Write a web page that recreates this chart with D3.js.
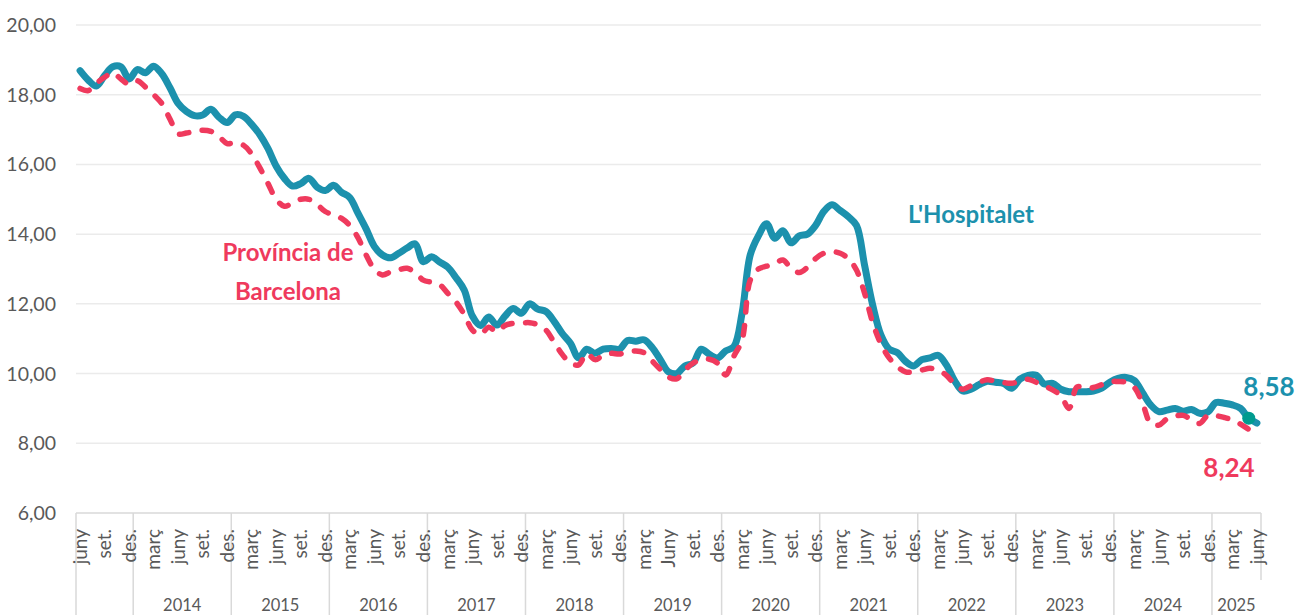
<!DOCTYPE html>
<html><head><meta charset="utf-8">
<script src="https://cdn.jsdelivr.net/npm/d3@7"></script>
<style>body{margin:0;background:#fff;} svg{display:block;}</style>
</head><body><svg id="c" width="1296" height="615"></svg>
<script>
// Monthly series, June 2013 .. June 2025 (145 months)
const hospitalet = [
18.69,18.42,18.25,18.55,18.80,18.80,18.45,18.72,18.63,18.82,18.60,18.20,
17.75,17.52,17.40,17.42,17.58,17.35,17.20,17.42,17.38,17.15,16.85,16.45,
15.95,15.60,15.38,15.45,15.60,15.35,15.25,15.40,15.20,15.05,14.60,14.15,
13.65,13.40,13.32,13.45,13.60,13.72,13.21,13.35,13.20,13.05,12.75,12.40,
11.65,11.38,11.62,11.39,11.65,11.87,11.73,12.00,11.85,11.78,11.50,11.15,
10.87,10.45,10.70,10.58,10.70,10.72,10.70,10.95,10.93,10.97,10.75,10.40,
10.05,10.00,10.22,10.30,10.70,10.55,10.45,10.65,10.77,11.73,13.40,13.95,
14.30,13.88,14.10,13.75,13.95,14.00,14.25,14.65,14.84,14.68,14.50,14.25,
13.10,11.95,11.10,10.70,10.60,10.35,10.22,10.40,10.45,10.52,10.25,9.80,
9.50,9.55,9.68,9.78,9.75,9.72,9.58,9.84,9.95,9.95,9.70,9.72,
9.55,9.48,9.48,9.48,9.50,9.58,9.75,9.86,9.89,9.80,9.45,9.10,
8.91,8.95,9.00,8.92,8.97,8.86,8.90,9.17,9.15,9.10,9.00,8.72,
8.58];
const provincia = [
18.18,18.12,18.33,18.50,18.63,18.45,18.30,18.40,18.22,18.00,17.75,17.30,
16.88,16.90,16.95,16.98,16.95,16.80,16.60,16.62,16.55,16.30,15.90,15.45,
15.00,14.80,14.90,15.00,15.00,14.85,14.65,14.55,14.45,14.25,13.90,13.40,
13.00,12.83,12.92,12.98,13.02,12.90,12.68,12.62,12.55,12.30,12.05,11.70,
11.25,11.12,11.33,11.20,11.38,11.44,11.45,11.46,11.40,11.25,10.90,10.55,
10.30,10.25,10.58,10.40,10.52,10.58,10.56,10.62,10.65,10.60,10.36,10.12,
9.90,9.85,10.10,10.30,10.40,10.41,10.30,9.96,10.50,10.96,12.68,13.00,
13.08,13.15,13.26,13.02,12.90,13.05,13.30,13.45,13.50,13.45,13.30,12.97,
12.30,11.45,10.85,10.45,10.20,10.05,10.05,10.10,10.15,10.10,9.95,9.70,
9.55,9.65,9.75,9.82,9.78,9.74,9.72,9.78,9.84,9.75,9.65,9.53,
9.38,9.00,9.62,9.58,9.60,9.68,9.77,9.77,9.75,9.60,9.15,8.57,
8.52,8.70,8.78,8.80,8.68,8.57,8.80,8.79,8.74,8.67,8.55,8.40,
8.24];
// Tick labels every 3 months starting at June 2013
const monthTickLabels = ["juny","set.","des.",
"març","juny","set.","des.", "març","juny","set.","des.", "març","juny","set.","des.",
"març","juny","set.","des.", "març","juny","set.","des.", "març","Juny","set.","des.",
"març","juny","set.","des.", "març","juny","set.","des.", "març","juny","set.","des.",
"març","juny","set.","des.", "març","juny","set.","des.",
"març","juny"];
const yearLabels = ["2014","2015","2016","2017","2018","2019","2020","2021","2022","2023","2024","2025"];
const yTicks = [6,8,10,12,14,16,18,20];
const firstJanIndex = 7; // January 2014
const nMonths = hospitalet.length;

const svg = d3.select("#c");
const L = 76, R = 1261, T = 25, B = 513;
const x = d3.scaleBand().domain(d3.range(nMonths)).range([L, R]).padding(0);
const xc = i => x(i) + x.bandwidth() / 2;
const y = d3.scaleLinear().domain([6, 20]).range([B, T]);
const fmt = v => d3.format(".2f")(v).replace(".", ",");
const font = "Lato, 'Open Sans', sans-serif";

// gridlines
svg.append("g").selectAll("line").data(yTicks.filter(d => d > 6)).join("line")
  .attr("x1", L).attr("x2", R).attr("y1", d => y(d)).attr("y2", d => y(d))
  .attr("stroke", "#ebebeb").attr("stroke-width", 1.5);
// axis line
svg.append("line").attr("x1", L).attr("x2", R).attr("y1", B).attr("y2", B)
  .attr("stroke", "#d9d9d9").attr("stroke-width", 1.5);

// y labels
svg.append("g").selectAll("text").data(yTicks).join("text")
  .attr("x", 56).attr("y", d => y(d)).attr("dy", "0.36em")
  .attr("text-anchor", "end").attr("font-family", font).attr("font-size", 19.5)
  .attr("fill", "#595959").text(fmt);

// group separators
const seps = [0];
for (let k = 0; k < yearLabels.length; k++) seps.push(firstJanIndex + 12 * k);
svg.append("g").selectAll("line").data(seps).join("line")
  .attr("x1", d => x(d)).attr("x2", d => x(d)).attr("y1", B).attr("y2", 615)
  .attr("stroke", "#d9d9d9").attr("stroke-width", 1.5);
svg.append("line").attr("x1", R).attr("x2", R).attr("y1", B).attr("y2", 580)
  .attr("stroke", "#d9d9d9").attr("stroke-width", 1.5);

// month labels
svg.append("g").selectAll("text").data(monthTickLabels).join("text")
  .attr("transform", (d, i) => `translate(${xc(i * 3)},529) rotate(-90)`)
  .attr("dy", "0.35em").attr("text-anchor", "end")
  .attr("font-family", font).attr("font-size", 19).attr("fill", "#595959").text(d => d);

// year labels
svg.append("g").selectAll("text").data(yearLabels).join("text")
  .attr("x", (d, k) => {
    const a = x(firstJanIndex + 12 * k);
    const bi = firstJanIndex + 12 * (k + 1);
    const b = bi < nMonths ? x(bi) : R;
    return (a + b) / 2;
  })
  .attr("y", 611).attr("text-anchor", "middle")
  .attr("font-family", font).attr("font-size", 16.5).attr("fill", "#595959").text(d => d);

const line = d3.line().x((d, i) => xc(i)).y(d => y(d)).curve(d3.curveCatmullRom.alpha(0.5));

svg.append("path").datum(hospitalet).attr("d", line).attr("fill", "none")
  .attr("stroke", "#1c91ad").attr("stroke-width", 7)
  .attr("stroke-linejoin", "round").attr("stroke-linecap", "round");
svg.append("path").datum(provincia).attr("d", line).attr("fill", "none")
  .attr("stroke", "#ef3a5d").attr("stroke-width", 5.5)
  .attr("stroke-dasharray", "9.5,13.5")
  .attr("stroke-linejoin", "round").attr("stroke-linecap", "round");

// marker
svg.append("circle").attr("cx", xc(nMonths - 2)).attr("cy", y(hospitalet[nMonths - 2]))
  .attr("r", 6.5).attr("fill", "#009b8f");

// annotations
const ann = [
  {t: "L'Hospitalet", x: 971, y: 215, c: "#1c91ad", s: 24},
  {t: "Província de", x: 288, y: 253, c: "#ef3a5d", s: 24},
  {t: "Barcelona", x: 288, y: 292, c: "#ef3a5d", s: 24},
  {t: fmt(hospitalet[nMonths - 1]), x: 1269, y: 387, c: "#1c91ad", s: 26},
  {t: fmt(provincia[nMonths - 1]), x: 1229, y: 468, c: "#ef3a5d", s: 26}
];
svg.append("g").selectAll("text").data(ann).join("text")
  .attr("x", d => d.x).attr("y", d => d.y).attr("dy", "0.35em")
  .attr("text-anchor", "middle").attr("font-family", font).attr("font-weight", "bold")
  .attr("font-size", d => d.s).attr("fill", d => d.c).text(d => d.t);
</script>
</body></html>
